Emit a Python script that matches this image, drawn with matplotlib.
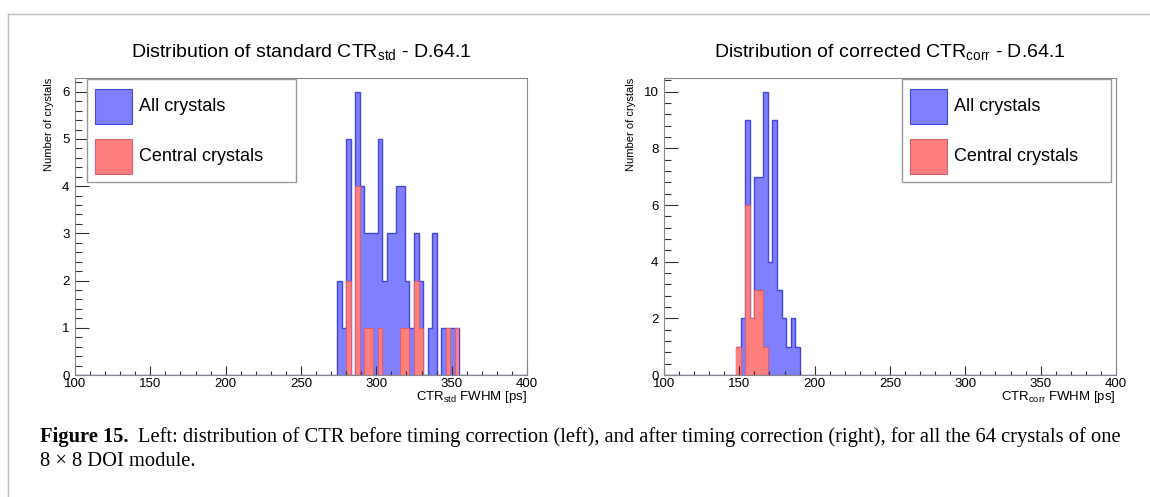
import numpy as np
import matplotlib.pyplot as plt
from matplotlib.patches import Rectangle
from matplotlib.lines import Line2D
from matplotlib.ticker import MultipleLocator

plt.rcParams['font.family'] = ['Liberation Sans', 'DejaVu Sans']
plt.rcParams['mathtext.fontset'] = 'custom'
plt.rcParams['mathtext.rm'] = 'Liberation Sans'
plt.rcParams['mathtext.it'] = 'Liberation Sans:italic'
plt.rcParams['mathtext.default'] = 'regular'

# histograms: 3 ps bins from 100 to 400 ps
bin_width = 3
x_lo, x_hi = 100, 400

# standard CTR (left)
std_first_bin = 274
std_all = [2, 1, 5, 0, 6, 4, 3, 3, 3, 5, 2, 3, 3, 4, 4, 2, 1, 3, 2, 0, 1, 3, 0, 1, 1, 1, 1]
std_central = [0, 0, 2, 0, 4, 0, 1, 1, 0, 1, 0, 0, 0, 0, 1, 1, 0, 2, 1, 0, 0, 0, 0, 0, 1, 0, 1]

# corrected CTR (right)
corr_first_bin = 148
corr_all = [1, 2, 9, 2, 7, 7, 10, 4, 9, 3, 2, 1, 2, 1]
corr_central = [1, 0, 6, 2, 3, 3, 1, 0, 0, 0, 0, 0, 0, 0]

legend_labels = ['All crystals', 'Central crystals']

BLUE_FILL, BLUE_LINE = '#7f7fff', '#4545e0'
RED_FILL, RED_LINE = '#ff7f7f', '#d86070'

W, H = 1150, 497
fig = plt.figure(figsize=(W / 100, H / 100), dpi=100)


def px_axes(x0, y_top, w, h):
    return fig.add_axes([x0 / W, 1 - (y_top + h) / H, w / W, h / H])


def full_hist(first, counts):
    edges = np.arange(x_lo, x_hi + bin_width, bin_width)
    h = np.zeros(len(edges) - 1)
    i = (first - x_lo) // bin_width
    h[i:i + len(counts)] = counts
    return edges, h, i


def draw_panel(ax, first, all_c, cen_c, title, xlabel, ymax, ymaj, ymin, leg_x, ylab_x):
    edges, h_all, i0 = full_hist(first, all_c)
    _, h_cen, _ = full_hist(first, cen_c)
    n = len(all_c)
    ax.stairs(h_all, edges, fill=True, color=BLUE_FILL, lw=0)
    ax.stairs(h_all, edges, color=BLUE_LINE, lw=1)
    sub_e = edges[i0:i0 + n + 1]
    ax.stairs(h_cen[i0:i0 + n], sub_e, fill=True, color=RED_FILL, lw=0)
    ax.stairs(h_cen[i0:i0 + n], sub_e, color=RED_LINE, lw=0.8, baseline=None)

    ax.set_xlim(x_lo, x_hi)
    ax.set_ylim(0, ymax)
    ax.xaxis.set_major_locator(MultipleLocator(50))
    ax.xaxis.set_minor_locator(MultipleLocator(10))
    ax.yaxis.set_major_locator(MultipleLocator(ymaj))
    ax.yaxis.set_minor_locator(MultipleLocator(ymin))
    ax.tick_params(which='both', direction='in', top=False, right=False,
                   labelsize=9.5, width=0.8, color='#333333')
    ax.xaxis.set_tick_params(which='major', length=6.4, pad=2)
    ax.xaxis.set_tick_params(which='minor', length=3.2)
    ax.yaxis.set_tick_params(which='major', length=9.8, pad=4)
    ax.yaxis.set_tick_params(which='minor', length=4.9)
    for s in ax.spines.values():
        s.set_color('#888888')
        s.set_linewidth(0.8)

    ax.text(0.5, 1 + 26 / 297.4, title, transform=ax.transAxes,
            ha='center', va='center', fontsize=14)
    ax.text(1.0, -22 / 297.4, xlabel, transform=ax.transAxes,
            ha='right', va='center', fontsize=9.5)
    ax.text(ylab_x, 1.0, 'Number of crystals', transform=ax.transAxes,
            rotation=90, ha='center', va='top', fontsize=8)

    # legend box drawn in axes fraction
    bw, bh = 0.462, 0.345
    ax.add_patch(Rectangle((leg_x, 0.650), bw, bh, transform=ax.transAxes,
                           facecolor='white', edgecolor='#999999', lw=1, zorder=5))
    for k, (lab, fc, ec) in enumerate(zip(legend_labels, [BLUE_FILL, RED_FILL],
                                          [BLUE_LINE, RED_LINE])):
        yb = 0.843 - k * 0.167
        ax.add_patch(Rectangle((leg_x + 0.0177, yb), 0.0815, 0.118,
                               transform=ax.transAxes, facecolor=fc,
                               edgecolor=ec, lw=0.8, zorder=6))
        ax.text(leg_x + 0.1158, yb + 0.059, lab, transform=ax.transAxes,
                ha='left', va='center', fontsize=13, zorder=7)


ax1 = px_axes(75, 77.6, 452, 297.4)
draw_panel(ax1, std_first_bin, std_all, std_central,
           'Distribution of standard CTR$_{std}$ - D.64.1',
           'CTR$_{std}$ FWHM [ps]', 6.3, 1, 0.2, 0.0265, -0.058)

ax2 = px_axes(664, 77.6, 452, 297.4)
draw_panel(ax2, corr_first_bin, corr_all, corr_central,
           'Distribution of corrected CTR$_{corr}$ - D.64.1',
           'CTR$_{corr}$ FWHM [ps]', 10.5, 2, 0.4, 0.526, -0.073)

# page frame lines
fig.add_artist(Line2D([8 / W, 1], [1 - 14 / H] * 2, color='#bbbbbb', lw=1))
fig.add_artist(Line2D([8 / W, 8 / W], [0, 1 - 14 / H], color='#bbbbbb', lw=1))

# caption
cap_font = dict(family=['Liberation Serif', 'DejaVu Serif'], va='center')
line1 = ('Left: distribution of CTR before timing correction (left), and after timing '
         'correction (right), for all the 64 crystals of one')
line2 = '8 \u00d7 8 DOI module.'
fs = 13
t_b = fig.text(40 / W, 1 - 437 / H, 'Figure 15.', weight='bold', fontsize=fs, **cap_font)
renderer = fig.canvas.get_renderer()
bb = t_b.get_window_extent(renderer)
t_1 = fig.text((bb.x1 + 10) / W, 1 - 437 / H, line1, fontsize=fs, **cap_font)
# fit first caption line to its width in the page
w1 = t_1.get_window_extent(renderer).x1 - 40
scale = (1122 - 40) / w1
t_b.set_fontsize(fs * scale)
bb = t_b.get_window_extent(renderer)
t_1.set_fontsize(fs * scale)
t_1.set_x((bb.x1 + 10) / W)
fig.text(40 / W, 1 - 462 / H, line2, fontsize=fs * scale, **cap_font)

fig.savefig('out.png', dpi=100)
